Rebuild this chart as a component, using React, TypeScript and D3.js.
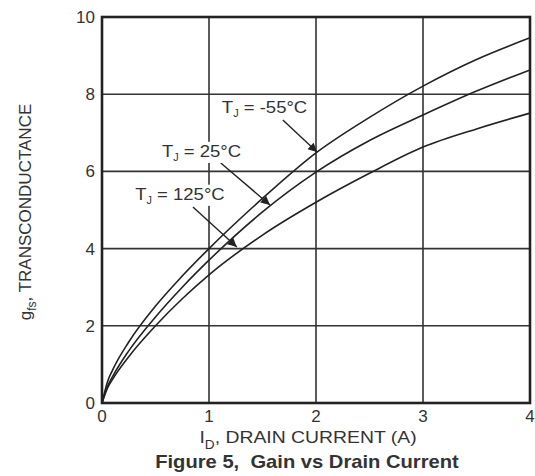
import React, { useEffect, useRef } from 'react';
import * as d3 from 'd3';

// drain current (A)
const current = [0, 0.05, 0.1, 0.25, 0.5, 0.75, 1, 1.5, 2, 2.5, 3, 3.5, 4];
// transconductance
const gMinus55 = [0, 0.54, 0.86, 1.58, 2.51, 3.29, 4.0, 5.3, 6.48, 7.4, 8.21, 8.9, 9.46];
const g25 = [0, 0.42, 0.69, 1.35, 2.23, 3.0, 3.7, 4.95, 5.98, 6.8, 7.46, 8.08, 8.63];
const g125 = [0, 0.38, 0.62, 1.2, 2.0, 2.7, 3.32, 4.35, 5.2, 5.95, 6.63, 7.1, 7.51];

const xTicks = [0, 1, 2, 3, 4];
const yTicks = [0, 2, 4, 6, 8, 10];

// annotation labels (data units): text anchor and arrow from/to
const labels = [
  { temp: '-55°C', tx: 1.12, ty: 7.51, x1: 1.69, y1: 7.33, x2: 2.01, y2: 6.5 },
  { temp: '25°C', tx: 0.56, ty: 6.37, x1: 1.11, y1: 6.22, x2: 1.57, y2: 5.13 },
  { temp: '125°C', tx: 0.31, ty: 5.26, x1: 0.85, y1: 5.08, x2: 1.26, y2: 4.04 },
];

const W = 535;
const H = 476;
const margin = { top: 17, right: 5, bottom: 73, left: 102 };
const ink = '#222';
const font = 'Liberation Sans, Arial, sans-serif';

export default function App() {
  const svgRef = useRef<SVGSVGElement | null>(null);

  useEffect(() => {
    const svg = d3.select(svgRef.current);
    svg.selectAll('*').remove();

    const x = d3.scaleLinear().domain([0, 4]).range([margin.left, W - margin.right]);
    const y = d3.scaleLinear().domain([0, 10]).range([H - margin.bottom, margin.top]);

    svg.append('rect').attr('width', W).attr('height', H).attr('fill', '#fff');

    svg.append('defs').append('marker')
      .attr('id', 'arrow')
      .attr('viewBox', '0 0 10 10')
      .attr('refX', 10)
      .attr('refY', 5)
      .attr('markerWidth', 11)
      .attr('markerHeight', 9)
      .attr('markerUnits', 'userSpaceOnUse')
      .attr('orient', 'auto')
      .append('path')
      .attr('d', 'M0,0L10,5L0,10z')
      .attr('fill', ink);

    // grid
    const grid = svg.append('g').attr('stroke', '#333').attr('stroke-width', 1.6);
    grid.selectAll('.vx')
      .data(xTicks.slice(1, -1))
      .enter()
      .append('line')
      .attr('x1', d => x(d))
      .attr('x2', d => x(d))
      .attr('y1', y(0))
      .attr('y2', y(10));
    grid.selectAll('.hy')
      .data(yTicks.slice(1, -1))
      .enter()
      .append('line')
      .attr('x1', x(0))
      .attr('x2', x(4))
      .attr('y1', d => y(d))
      .attr('y2', d => y(d));

    // curves
    const series = [gMinus55, g25, g125];
    const line = d3.line<number>()
      .x((d, i) => x(current[i]))
      .y(d => y(d))
      .curve(d3.curveMonotoneX);
    svg.selectAll('.curve')
      .data(series)
      .enter()
      .append('path')
      .attr('d', d => line(d))
      .attr('fill', 'none')
      .attr('stroke', ink)
      .attr('stroke-width', 1.6);

    // frame
    svg.append('rect')
      .attr('x', x(0))
      .attr('y', y(10))
      .attr('width', x(4) - x(0))
      .attr('height', y(0) - y(10))
      .attr('fill', 'none')
      .attr('stroke', '#222')
      .attr('stroke-width', 2.6);

    // tick labels
    svg.selectAll('.xt')
      .data(xTicks)
      .enter()
      .append('text')
      .attr('x', d => x(d))
      .attr('y', y(0) + 19)
      .attr('text-anchor', 'middle')
      .style('font-family', font)
      .style('font-size', '17px')
      .attr('fill', '#333')
      .text(d => d);
    svg.selectAll('.yt')
      .data(yTicks)
      .enter()
      .append('text')
      .attr('x', x(0) - 7)
      .attr('y', d => y(d) + 6)
      .attr('text-anchor', 'end')
      .style('font-family', font)
      .style('font-size', '17px')
      .attr('fill', '#333')
      .text(d => d);

    // annotations
    labels.forEach(l => {
      svg.append('line')
        .attr('x1', x(l.x1))
        .attr('y1', y(l.y1))
        .attr('x2', x(l.x2))
        .attr('y2', y(l.y2))
        .attr('stroke', ink)
        .attr('stroke-width', 1.4)
        .attr('marker-end', 'url(#arrow)');

      const g = svg.append('g')
        .attr('transform', `translate(${x(l.tx)},${y(l.ty)}) scale(1.09,1)`);
      const bg = g.append('rect').attr('fill', '#fff');
      const t = g.append('text')
        .style('font-family', font)
        .style('font-size', '17px')
        .attr('fill', '#333');
      t.append('tspan').text('T');
      t.append('tspan').attr('dy', 4).style('font-size', '10px').text('J');
      t.append('tspan').attr('dy', -4).text(' = ' + l.temp);
      const bb = (t.node() as SVGTextElement).getBBox();
      bg.attr('x', bb.x - 2)
        .attr('y', bb.y)
        .attr('width', bb.width + 4)
        .attr('height', bb.height);
    });

    // x axis title
    const xt = svg.append('text')
      .attr('transform', 'translate(308,443) scale(1.14,1)')
      .attr('text-anchor', 'middle')
      .style('font-family', font)
      .style('font-size', '17px')
      .attr('fill', '#333');
    xt.append('tspan').text('I');
    xt.append('tspan').attr('dy', 6).style('font-size', '12px').text('D');
    xt.append('tspan').attr('dy', -6).text(', DRAIN CURRENT (A)');

    // y axis title
    const yt = svg.append('text')
      .attr('transform', 'translate(31,212) rotate(-90)')
      .attr('text-anchor', 'middle')
      .style('font-family', font)
      .style('font-size', '17px')
      .attr('fill', '#333');
    yt.append('tspan').text('g');
    yt.append('tspan').attr('dy', 5).style('font-size', '12px').text('fs');
    yt.append('tspan').attr('dy', -5).text(', TRANSCONDUCTANCE');

    // figure caption
    svg.append('text')
      .attr('transform', 'translate(307,468) scale(1.12,1)')
      .attr('text-anchor', 'middle')
      .style('font-family', font)
      .style('font-size', '18px')
      .style('font-weight', 'bold')
      .attr('fill', '#333')
      .attr('xml:space', 'preserve')
      .style('white-space', 'pre')
      .text('Figure 5,  Gain vs Drain Current');
  }, []);

  return (
    <svg
      ref={svgRef}
      width={W}
      height={H}
      style={{ position: 'absolute', left: 0, top: 0 }}
    />
  );
}
